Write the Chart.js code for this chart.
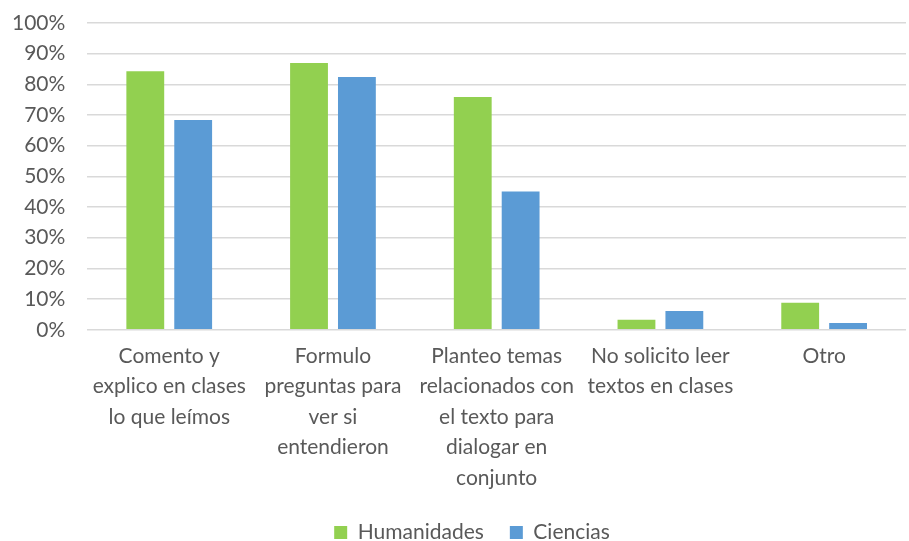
<!DOCTYPE html>
<html>
<head>
<meta charset="utf-8">
<script src="https://cdn.jsdelivr.net/npm/chart.js@4/dist/chart.umd.min.js"></script>
<style>
  html, body { margin: 0; padding: 0; background: #fff; }
  #wrap { width: 909px; height: 541px; }
</style>
</head>
<body>
<div id="wrap"><canvas id="chart"></canvas></div>
<script>
// categorias (etiquetas en varias lineas)
const categorias = [
    ['Comento y', 'explico en clases', 'lo que leímos'],
    ['Formulo', 'preguntas para', 'ver si', 'entendieron'],
    ['Planteo temas', 'relacionados con', 'el texto para', 'dialogar en', 'conjunto'],
    ['No solicito leer', 'textos en clases'],
    ['Otro']
];

// porcentajes
const humanidades = [84.3, 87.0, 75.9, 3.3, 8.8];
const ciencias = [68.4, 82.4, 45.1, 6.1, 2.2];

const yMax = 100;
const yStep = 10;

const textColor = '#595959';
const fuente = "Lato, 'Open Sans', sans-serif";

// mueve la leyenda un poco a la derecha (como en el original)
const moverLeyenda = {
    id: 'moverLeyenda',
    afterLayout(chart) {
        chart.legend.left += 24;
        chart.legend.right += 24;
    }
};

const ctx = document.getElementById('chart').getContext('2d');

const chart = new Chart(ctx, {
    type: 'bar',
    data: {
        labels: categorias,
        datasets: [{
            label: 'Humanidades',
            data: humanidades,
            backgroundColor: '#92D050',
            categoryPercentage: 0.585,
            barPercentage: 0.79
        }, {
            label: 'Ciencias',
            data: ciencias,
            backgroundColor: '#5B9BD5',
            categoryPercentage: 0.585,
            barPercentage: 0.79
        }]
    },
    options: {
        responsive: true,
        maintainAspectRatio: false,
        animation: false,
        layout: {
            padding: { left: -10, right: 3, top: 0, bottom: -12 }
        },
        scales: {
            x: {
                grid: { display: false },
                border: { display: false },
                ticks: {
                    color: textColor,
                    font: { family: fuente, size: 21, lineHeight: 1.45 },
                    maxRotation: 0,
                    autoSkip: false,
                    padding: 3
                }
            },
            y: {
                min: 0,
                max: yMax,
                grid: { color: '#d9d9d9', lineWidth: 1.5, drawTicks: false },
                border: { display: false },
                ticks: {
                    stepSize: yStep,
                    autoSkip: false,
                    color: textColor,
                    font: { family: fuente, size: 21 },
                    padding: 22,
                    callback: v => v + '%'
                },
                // el padding de las etiquetas no debe empujar el borde superior
                afterFit: function (scale) {
                    scale.paddingTop = 23;
                    scale.paddingBottom = 13;
                }
            }
        },
        plugins: {
            legend: {
                position: 'bottom',
                labels: {
                    color: textColor,
                    font: { family: fuente, size: 21 },
                    boxWidth: 13,
                    boxHeight: 13,
                    padding: 26
                }
            },
            tooltip: { enabled: false }
        }
    },
    plugins: [moverLeyenda]
});
</script>
</body>
</html>
